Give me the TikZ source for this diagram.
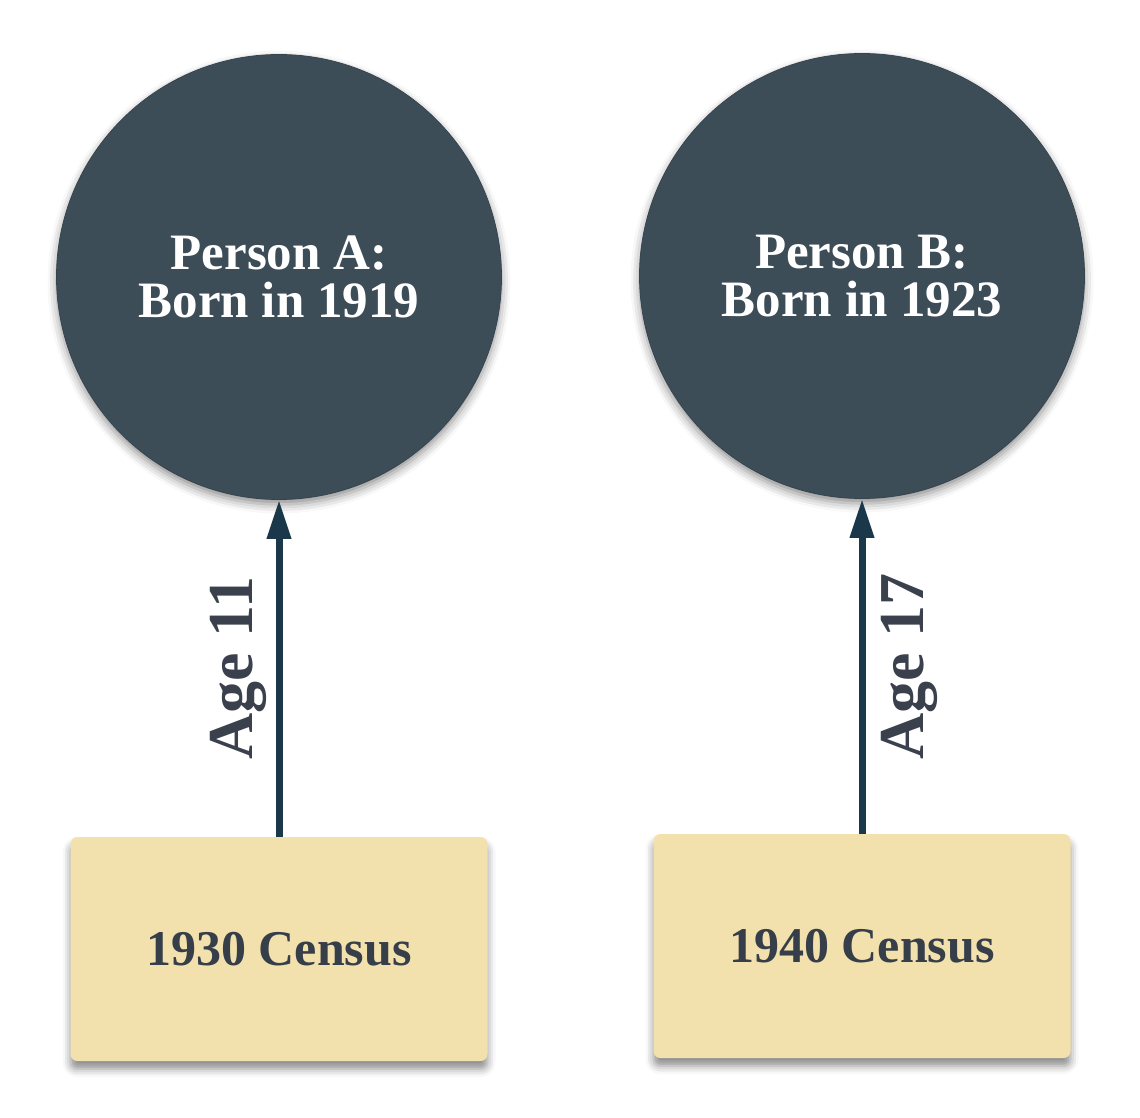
\documentclass[tikz,border=0pt]{standalone}
\usepackage{fontspec}
\setmainfont{Liberation Serif}
\usetikzlibrary{arrows.meta,shadows.blur}
\definecolor{circfill}{HTML}{3D4D58}
\definecolor{circedge}{HTML}{36444E}
\definecolor{boxfill}{HTML}{F3E1AD}
\definecolor{boxtext}{HTML}{363E4A}
\definecolor{arrowcol}{HTML}{1A3849}
\definecolor{labelcol}{HTML}{3A414C}
\tikzset{
  person/.style={circle, fill=circfill, draw=circedge, line width=0.8pt,
    minimum size=445pt, inner sep=0pt, align=center, text=white,
    font=\bfseries\fontsize{51}{48}\selectfont,
    blur shadow={shadow xshift=0pt, shadow yshift=-5pt, shadow blur radius=9pt, shadow opacity=45}},
  census/.style={rectangle, rounded corners=7pt, fill=boxfill,
    minimum width=417pt, minimum height=224pt, inner sep=0pt,
    text=boxtext, font=\bfseries\fontsize{50}{56}\selectfont,
    blur shadow={shadow xshift=0pt, shadow yshift=-8pt, shadow blur radius=8pt, shadow opacity=45}},
  link/.style={draw=arrowcol, line width=7pt, -{Triangle[length=39pt,width=23pt]}},
  agelabel/.style={sloped, inner sep=0pt, text=labelcol,
    font=\bfseries\fontsize{64}{70}\selectfont}
}
\begin{document}
\begin{tikzpicture}[x=1pt,y=-1pt]
\useasboundingbox (0,0) rectangle (1140,1118);
\node[person] (pa) at (279,277) {Person A:\\Born in 1919};
\node[person] (pb) at (862,276) {Person B:\\Born in 1923};
\node[census] (ca) at (279,949) {1930 Census};
\node[census] (cb) at (862,946) {1940 Census};
\draw[link] (ca.north) -- node[agelabel, above=9pt] {Age 11} (pa.south);
\draw[link] (cb.north) -- node[agelabel, below=16pt] {Age 17} (pb.south);
\end{tikzpicture}
\end{document}
